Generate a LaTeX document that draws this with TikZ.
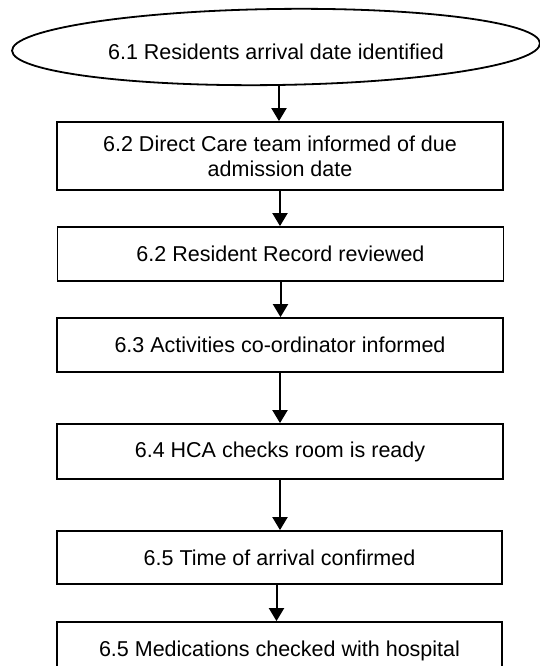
\documentclass[tikz,border=0pt]{standalone}
\usepackage{fontspec}
\setmainfont{Liberation Sans}
\usetikzlibrary{shapes.geometric,arrows.meta}
\begin{document}
\begin{tikzpicture}[x=1pt,y=-1pt,
  every node/.style={font=\fontsize{21.5}{24.7}\selectfont, text=black},
  stepbox/.style={draw=black, line width=1.8pt, rectangle, minimum width=446pt, inner sep=0pt, align=center},
  startell/.style={draw=black, line width=1.8pt, ellipse, minimum width=528pt, minimum height=76pt, inner sep=0pt},
  arr/.style={line width=2pt, -{Triangle[width=15pt,length=13pt]}}]
\useasboundingbox (0,0) rectangle (539,666);
\node[startell, rotate=0.8] (e) at (276,47) {};
\node at (276,52) {6.1 Residents arrival date identified};
\node[stepbox, minimum height=68pt] (b1) at (280,156) {6.2 Direct Care team informed of due\\admission date};
\node[stepbox, minimum height=54pt] (b2) at (280.5,254) {6.2 Resident Record reviewed};
\node[stepbox, minimum height=54pt] (b3) at (280,345) {6.3 Activities co-ordinator informed};
\node[stepbox, minimum height=55pt] (b4) at (280,451.5) {6.4 HCA checks room is ready};
\node[stepbox, minimum height=53pt, minimum width=445pt] (b5) at (279.5,557.5) {6.5 Time of arrival confirmed};
\node[stepbox, minimum height=58pt, minimum width=445pt] (b6) at (279.5,651) {6.5 Medications checked with hospital};
\coordinate (etop) at (279,86);
\draw[arr] (etop) -- (b1.north -| etop);
\draw[arr] (b1.south) -- (b2.north -| b1.south);
\draw[arr] (b2.south) -- (b3.north -| b2.south);
\draw[arr] (b3.south) -- (b4.north -| b3.south);
\draw[arr] (b4.south) -- (b5.north -| b4.south);
\draw[arr] ([xshift=-3pt]b5.south) -- ([xshift=-3pt]b6.north);
\end{tikzpicture}
\end{document}
